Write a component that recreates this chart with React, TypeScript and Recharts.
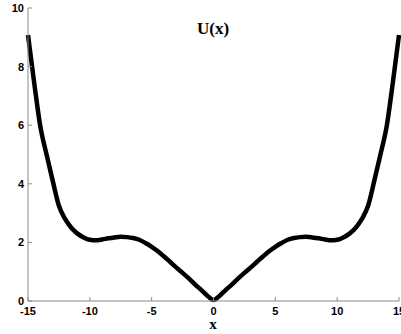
import { LineChart, Line, XAxis, YAxis, Customized } from 'recharts'

// sample positions and potential values
const xs = [
  -15, -14.5, -14, -13.5, -13, -12.5, -12, -11.5, -11, -10.5, -10, -9.5, -9, -8.5, -8, -7.5, -7, -6.5, -6, -5.5, -5,
  -4.5, -4, -3.5, -3, -2.5, -2, -1.5, -1, -0.5, 0, 0.5, 1, 1.5, 2, 2.5, 3, 3.5, 4, 4.5, 5, 5.5, 6, 6.5, 7, 7.5, 8,
  8.5, 9, 9.5, 10, 10.5, 11, 11.5, 12, 12.5, 13, 13.5, 14, 14.5, 15,
]
const u = [
  9.08, 7.45, 5.95, 5.0, 4.1, 3.25, 2.8, 2.5, 2.3, 2.17, 2.09, 2.07, 2.1, 2.14, 2.17, 2.19, 2.18, 2.15, 2.09, 1.98, 1.85,
  1.7, 1.52, 1.33, 1.14, 0.96, 0.77, 0.57, 0.38, 0.18, 0.03, 0.18, 0.38, 0.57, 0.77, 0.96, 1.14, 1.33, 1.52, 1.7, 1.85,
  1.98, 2.09, 2.15, 2.18, 2.19, 2.17, 2.14, 2.1, 2.07, 2.09, 2.17, 2.3, 2.5, 2.8, 3.25, 4.1, 5.0, 5.95, 7.45, 9.08,
]
const xTicks = [-15, -10, -5, 0, 5, 10, 15]
const yTicks = [0, 2, 4, 6, 8, 10]

const data = xs.map((x, i) => ({ x, u: u[i] }))

const axisColor = '#8a8a8a'
const tickFont = { fontFamily: 'Liberation Sans, Arial, sans-serif', fontWeight: 700, fontSize: 11, fill: '#000' }

const BottomTick = (props: any) => {
  const { x, y, payload } = props
  return (
    <g>
      <line x1={x} y1={y} x2={x} y2={y - 4} stroke={axisColor} />
      <text x={x} y={y + 14} textAnchor="middle" {...tickFont}>{payload.value}</text>
    </g>
  )
}

const TopTick = (props: any) => {
  const { x, y } = props
  return <line x1={x} y1={y} x2={x} y2={y + 4} stroke={axisColor} />
}

const LeftTick = (props: any) => {
  const { x, y, payload } = props
  return (
    <g>
      <line x1={x} y1={y} x2={x + 4} y2={y} stroke={axisColor} />
      <text x={x - 4} y={y + 4} textAnchor="end" {...tickFont}>{payload.value}</text>
    </g>
  )
}

const RightTick = (props: any) => {
  const { x, y } = props
  return <line x1={x} y1={y} x2={x - 4} y2={y} stroke={axisColor} />
}

const Titles = () => (
  <g fontFamily="Liberation Serif, Times New Roman, serif" fontWeight={700} fill="#000">
    <text x={213} y={34} textAnchor="middle" fontSize={17}>U(x)</text>
    <text x={213} y={329} textAnchor="middle" fontSize={15}>x</text>
  </g>
)

export default function App() {
  return (
    <div style={{ position: 'absolute', left: 0, top: 0, background: '#fff', width: 401, height: 334 }}>
      <LineChart
        width={401}
        height={334}
        data={data}
        margin={{ top: 8, right: 2, bottom: 0, left: 0 }}
        style={{ overflow: 'visible' }}
      >
        <XAxis
          dataKey="x"
          type="number"
          domain={[-15, 15]}
          ticks={xTicks}
          height={33}
          tickSize={0}
          tickMargin={0}
          tickLine={false}
          axisLine={{ stroke: axisColor }}
          tick={<BottomTick />}
          interval={0}
        />
        <XAxis
          xAxisId="top"
          orientation="top"
          dataKey="x"
          type="number"
          domain={[-15, 15]}
          ticks={xTicks}
          height={0}
          tickSize={0}
          tickMargin={0}
          tickLine={false}
          axisLine={{ stroke: axisColor }}
          tick={<TopTick />}
          interval={0}
        />
        <YAxis
          type="number"
          domain={[0, 10]}
          ticks={yTicks}
          width={28}
          tickSize={0}
          tickMargin={0}
          tickLine={false}
          axisLine={{ stroke: axisColor }}
          tick={<LeftTick />}
          interval={0}
        />
        <YAxis
          yAxisId="right"
          orientation="right"
          type="number"
          domain={[0, 10]}
          ticks={yTicks}
          width={0}
          tickSize={0}
          tickMargin={0}
          tickLine={false}
          axisLine={{ stroke: axisColor }}
          tick={<RightTick />}
          interval={0}
        />
        <Line
          type="monotone"
          dataKey="u"
          stroke="#000"
          strokeWidth={4.5}
          dot={false}
          isAnimationActive={false}
        />
        <Customized component={Titles} />
      </LineChart>
    </div>
  )
}
